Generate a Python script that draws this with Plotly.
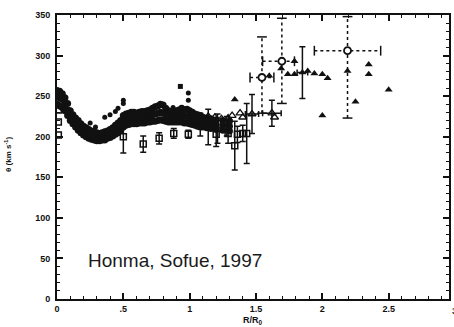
import plotly.graph_objects as go

# ---- data ----
band_x = [0.00, 0.02, 0.04, 0.06, 0.08, 0.10, 0.12, 0.14, 0.16, 0.18, 0.20, 0.22, 0.24, 0.26,
          0.28, 0.30, 0.32, 0.34, 0.36, 0.38, 0.40, 0.42, 0.44, 0.46, 0.48, 0.50, 0.52, 0.54,
          0.56, 0.58, 0.60, 0.62, 0.64, 0.66, 0.68, 0.70, 0.72, 0.74, 0.76, 0.78, 0.80, 0.82,
          0.84, 0.86, 0.88, 0.90, 0.92, 0.94, 0.96, 0.98, 1.00, 1.02, 1.04, 1.06, 1.08, 1.10,
          1.13, 1.16, 1.20, 1.25, 1.30]
band_lo = [240, 238, 236, 232, 226, 220, 216, 212, 208, 205, 202, 200, 198, 197,
           196, 195, 195, 196, 196, 198, 199, 201, 203, 205, 208, 212, 214, 215,
           216, 216, 216, 217, 217, 217, 218, 218, 219, 219, 220, 221, 220, 219,
           218, 218, 218, 218, 218, 218, 217, 217, 216, 215, 214, 213, 212, 212,
           211, 210, 209, 208, 207]
band_mid = [249, 248, 246, 240, 233, 226, 221, 218, 214, 210, 207, 205, 203, 201,
            200, 199, 199, 200, 200, 202, 204, 206, 208, 211, 214, 219, 221, 222,
            223, 223, 223, 224, 224, 224, 225, 226, 227, 228, 229, 230, 229, 227,
            225, 224, 224, 225, 225, 226, 225, 225, 224, 222, 221, 220, 219, 218,
            217, 216, 215, 214, 213]
band_hi = [257, 256, 253, 248, 241, 232, 227, 223, 220, 216, 213, 211, 209, 207,
           206, 205, 204, 205, 206, 207, 209, 211, 214, 217, 220, 226, 228, 229,
           230, 230, 229, 230, 231, 231, 232, 233, 235, 237, 238, 240, 239, 235,
           232, 231, 231, 232, 233, 235, 233, 234, 232, 230, 228, 227, 226, 224,
           223, 222, 221, 220, 219]

extra_x = [0.25, 0.29, 0.36, 0.40, 0.44, 0.46, 0.50, 0.50, 0.875, 0.99, 0.99]
extra_y = [217, 212, 224, 227, 231, 235, 241, 245, 236, 245, 254]

cross_x = [0.93]
cross_y = [262]

axis_sq_x = [0.01, 0.01, 0.01]
axis_sq_y = [233, 218, 202]

sq_x = [0.50, 0.65, 0.77, 0.88, 0.99, 1.20, 1.29, 1.34, 1.36, 1.40, 1.43]
sq_y = [200, 191, 198, 204, 203, 203, 204, 189, 203, 204, 204]
sq_err = [20, 10, 7, 6, 5, 15, 12, 30, 10, 10, 37]

otri_x = [1.14, 1.19, 1.24, 1.29, 1.32, 1.38, 1.40, 1.64]
otri_y = [225, 224, 222, 223, 226, 229, 224, 224]

bar_x = [1.08, 1.14, 1.21, 1.28, 1.47, 1.62]
bar_y = [215, 212, 210, 213, 228, 229]
bar_ey = [14, 22, 18, 12, 24, 16]
bar_ex = [0.0, 0.0, 0.0, 0.0, 0.05, 0.07]

ftri_x = [1.34, 1.60, 1.69, 1.79, 1.74, 1.79, 1.89, 1.94, 2.00, 2.04, 2.00, 2.19, 2.25, 2.35,
          2.35, 2.50]
ftri_y = [246, 275, 284, 293, 277, 277, 281, 278, 277, 272, 226, 281, 243, 289, 277, 258]

fbar_x = [1.85]
fbar_y = [279]
fbar_ey = [32]
fbar_ex = [0.04]

oc_x = [1.545, 1.695, 2.19]
oc_y = [273, 293, 306]
oc_ey_plus = [50, 53, 42]
oc_ey_minus = [44, 52, 83]
oc_ex_plus = [0.09, 0.095, 0.25]
oc_ex_minus = [0.09, 0.145, 0.25]

x_ticks = [0, 0.5, 1, 1.5, 2, 2.5]
x_ticklabels = ["0", ".5", "1", "1.5", "2", "2.5"]
y_ticks = [0, 50, 100, 150, 200, 250, 300, 350]
x_max = 2.955

# ---- figure ----
fig = go.Figure()
black = "#111111"
fam = "Liberation Sans, Arial"

fig.add_trace(go.Scatter(
    x=band_x + band_x + band_x, y=band_lo + band_mid + band_hi, mode="markers",
    marker=dict(symbol="circle", size=7, color=black), showlegend=False))
fig.add_trace(go.Scatter(
    x=extra_x, y=extra_y, mode="markers",
    marker=dict(symbol="circle", size=5, color=black), showlegend=False))
fig.add_trace(go.Scatter(
    x=cross_x, y=cross_y, mode="markers",
    marker=dict(symbol="square", size=5, color=black), showlegend=False))
fig.add_trace(go.Scatter(
    x=axis_sq_x, y=axis_sq_y, mode="markers",
    marker=dict(symbol="square-open", size=6, color=black, line=dict(width=1.5)),
    showlegend=False))

# solid error bars
fig.add_trace(go.Scatter(
    x=sq_x, y=sq_y, mode="markers",
    error_y=dict(type="data", array=sq_err, color=black, thickness=1.5, width=3),
    marker=dict(symbol="square-open", size=6, color=black, line=dict(width=1.5)),
    showlegend=False))
fig.add_trace(go.Scatter(
    x=bar_x, y=bar_y, mode="markers",
    error_y=dict(type="data", array=bar_ey, color=black, thickness=1.5, width=3),
    error_x=dict(type="data", array=bar_ex, color=black, thickness=1.5, width=3),
    marker=dict(symbol="triangle-up-open", size=7, color=black, line=dict(width=1.3)),
    showlegend=False))
fig.add_trace(go.Scatter(
    x=otri_x, y=otri_y, mode="markers",
    marker=dict(symbol="triangle-up-open", size=7, color=black, line=dict(width=1.3)),
    showlegend=False))
fig.add_trace(go.Scatter(
    x=ftri_x, y=ftri_y, mode="markers",
    marker=dict(symbol="triangle-up", size=7, color=black), showlegend=False))
fig.add_trace(go.Scatter(
    x=fbar_x, y=fbar_y, mode="markers",
    error_y=dict(type="data", array=fbar_ey, color=black, thickness=1.5, width=3),
    error_x=dict(type="data", array=fbar_ex, color=black, thickness=1.5, width=3),
    marker=dict(symbol="triangle-up", size=7, color=black), showlegend=False))

# dotted error bars for open circles
for xc, yc, ep, em, xp, xm in zip(oc_x, oc_y, oc_ey_plus, oc_ey_minus, oc_ex_plus, oc_ex_minus):
    fig.add_trace(go.Scatter(
        x=[xc, xc], y=[yc - em, yc + ep], mode="lines+markers",
        line=dict(color=black, width=1.5, dash="dot"),
        marker=dict(symbol="line-ew-open", size=7, color=black, line=dict(width=1.5, color=black)),
        showlegend=False))
    fig.add_trace(go.Scatter(
        x=[xc - xm, xc + xp], y=[yc, yc], mode="lines+markers",
        line=dict(color=black, width=1.5, dash="dot"),
        marker=dict(symbol="line-ns-open", size=7, color=black, line=dict(width=1.5, color=black)),
        showlegend=False))
fig.add_trace(go.Scatter(
    x=oc_x, y=oc_y, mode="markers",
    marker=dict(symbol="circle", size=7, color="white", line=dict(width=1.8, color=black)),
    showlegend=False))

fig.add_annotation(x=0.22, y=47, xref="x", yref="y", text="Honma, Sofue, 1997",
                   showarrow=False, xanchor="left", yanchor="middle",
                   font=dict(family=fam, size=19, color="#1a1a1a"))
# partially visible last tick label "3" beyond the axis end
fig.add_annotation(x=3 / x_max, y=0, xref="paper", yref="paper", text="3", showarrow=False,
                   xanchor="center", yanchor="top", yshift=-5,
                   font=dict(family=fam, size=9, color=black, weight="bold"))
# axis titles
fig.add_annotation(x=0.5, y=-0.077, xref="paper", yref="paper", text="R/R<sub>0</sub>",
                   showarrow=False, xanchor="center", yanchor="middle",
                   font=dict(family=fam, size=9, color=black, weight="bold"))
fig.add_annotation(x=-0.125, y=0.507, xref="paper", yref="paper",
                   text="θ (km s<sup>-1</sup>)", textangle=-90,
                   showarrow=False, xanchor="center", yanchor="middle",
                   font=dict(family=fam, size=8, color=black, weight="bold"))

tickfont = dict(family=fam, size=9, color=black, weight="bold")
fig.update_xaxes(
    range=[0, x_max], tickvals=x_ticks, ticktext=x_ticklabels, ticks="inside",
    ticklen=6, tickwidth=1.5, tickcolor=black, showline=True, linecolor=black,
    linewidth=2, mirror="ticks", showgrid=False, zeroline=False, tickfont=tickfont,
    automargin=False,
    minor=dict(dtick=0.1, ticks="inside", ticklen=3, tickwidth=1, tickcolor=black, showgrid=False))
fig.update_yaxes(
    range=[0, 350], tickvals=y_ticks, ticks="inside",
    ticklen=6, tickwidth=1.5, tickcolor=black, showline=True, linecolor=black,
    linewidth=2, mirror="ticks", showgrid=False, zeroline=False, tickfont=tickfont,
    ticklabelstandoff=3, automargin=False,
    minor=dict(dtick=10, ticks="inside", ticklen=3, tickwidth=1, tickcolor=black, showgrid=False))

fig.update_layout(
    width=454, height=327, margin=dict(l=57, r=5, t=15, b=28),
    paper_bgcolor="white", plot_bgcolor="white", showlegend=False)

fig.write_html("out.html", config={"displayModeBar": False},
               post_script="document.body.style.margin='0px';")
